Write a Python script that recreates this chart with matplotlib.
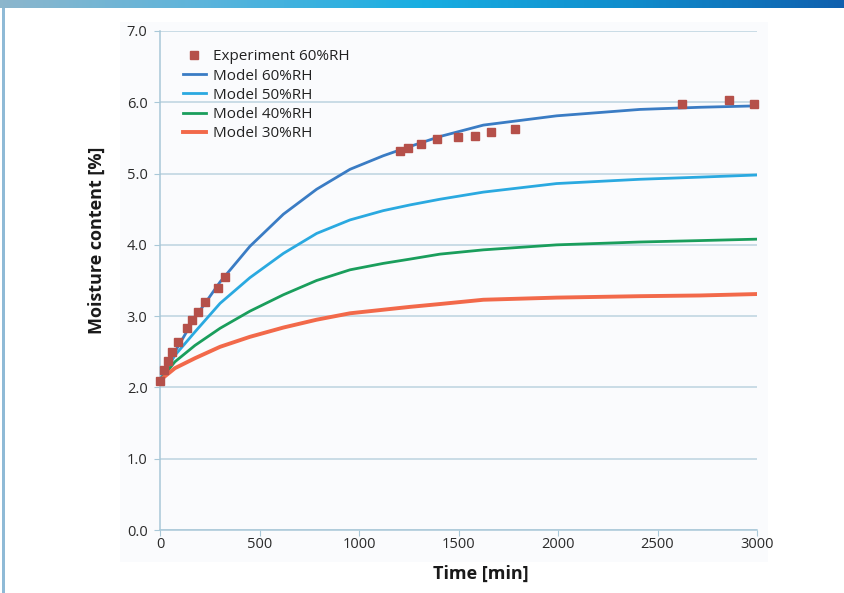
import numpy as np
import matplotlib
matplotlib.use("Agg")
import matplotlib.pyplot as plt
from matplotlib.patches import Rectangle
from matplotlib.colors import LinearSegmentedColormap

plt.rcParams['font.family'] = ['Open Sans', 'DejaVu Sans']

# Experimental data (60% RH)
exp_t = [0, 20, 42, 59, 92, 134, 162, 193, 226, 290, 327,
         1206, 1248, 1310, 1394, 1496, 1581, 1662, 1786, 2621, 2860, 2985]
exp_mc = [2.09, 2.25, 2.37, 2.49, 2.64, 2.83, 2.95, 3.06, 3.20, 3.40, 3.55,
          5.31, 5.36, 5.42, 5.49, 5.51, 5.53, 5.59, 5.62, 5.98, 6.03, 5.98]

# Model curves
model_t = [0, 75, 176, 302, 452, 620, 787, 955, 1122, 1256, 1407, 1625, 1993, 2412, 2714, 3000]
model_60 = [2.10, 2.50, 2.98, 3.48, 3.98, 4.43, 4.78, 5.06, 5.25, 5.38, 5.52, 5.68, 5.81, 5.90, 5.93, 5.95]
model_50 = [2.10, 2.45, 2.78, 3.18, 3.54, 3.88, 4.16, 4.35, 4.48, 4.56, 4.64, 4.74, 4.86, 4.92, 4.95, 4.98]
model_40 = [2.10, 2.36, 2.59, 2.83, 3.07, 3.30, 3.50, 3.65, 3.74, 3.80, 3.87, 3.93, 4.00, 4.04, 4.06, 4.08]
model_30 = [2.10, 2.27, 2.41, 2.57, 2.71, 2.84, 2.95, 3.04, 3.09, 3.13, 3.17, 3.23, 3.26, 3.28, 3.29, 3.31]

x_ticks = [0, 500, 1000, 1500, 2000, 2500, 3000]
y_ticks = [0.0, 1.0, 2.0, 3.0, 4.0, 5.0, 6.0, 7.0]

W, H = 844, 593
fig = plt.figure(figsize=(W / 100, H / 100), dpi=100)
fig.patch.set_facecolor('white')

# faint panel behind plot
bg = fig.add_axes([120 / W, 1 - 562 / H, (768 - 120) / W, (562 - 22) / H], zorder=-5)
bg.set_axis_off()
bg.add_patch(Rectangle((0, 0), 1, 1, transform=bg.transAxes, facecolor='#fafbfd', edgecolor='none'))

# left border
border = fig.add_axes([2 / W, 0, 3 / W, 1 - 8 / H], zorder=-4)
border.set_axis_off()
border.add_patch(Rectangle((0, 0), 1, 1, transform=border.transAxes, facecolor='#8fbad6', edgecolor='none'))

# top gradient bar
bar = fig.add_axes([0, 1 - 8 / H, 1, 8 / H])
cmap = LinearSegmentedColormap.from_list('g', ['#8cb6cc', '#5ab4dc', '#18aee2', '#0f8ccc', '#1060ae'])
bar.imshow(np.linspace(0, 1, 256)[None, :], aspect='auto', cmap=cmap, extent=[0, 1, 0, 1])
bar.set_axis_off()

ax = fig.add_axes([160 / W, 1 - 530 / H, 597 / W, 499 / H], zorder=2)
ax.set_facecolor('none')

ax.plot(model_t, model_60, color='#3a7cc4', lw=2.0, label='Model 60%RH', zorder=3)
ax.plot(model_t, model_50, color='#2aa9e0', lw=2.0, label='Model 50%RH', zorder=3)
ax.plot(model_t, model_40, color='#1a9e5c', lw=2.0, label='Model 40%RH', zorder=3)
ax.plot(model_t, model_30, color='#f2694a', lw=2.8, label='Model 30%RH', zorder=3)
ax.plot(exp_t, exp_mc, ls='none', marker='s', ms=6, color='#b5504a',
        label='Experiment 60%RH', zorder=4, clip_on=False)

ax.set_xlim(0, 3000)
ax.set_ylim(0, 7)
ax.set_xticks(x_ticks)
ax.set_xticklabels([str(v) for v in x_ticks])
ax.set_yticks(y_ticks)
ax.set_yticklabels([f'{v:.1f}' for v in y_ticks])
ax.grid(axis='y', color='#bcd3df', lw=1.1, zorder=1)
ax.set_axisbelow(True)
for s in ['top', 'right']:
    ax.spines[s].set_visible(False)
for s in ['left', 'bottom']:
    ax.spines[s].set_color('#a9c8d8')
    ax.spines[s].set_linewidth(1.1)
ax.tick_params(axis='both', colors='#a9c8d8', length=4, labelcolor='#2a2a2a', labelsize=10.5)
ax.tick_params(axis='y', pad=5)
ax.tick_params(axis='x', pad=1)

ax.set_xlabel('Time [min]', fontsize=13, fontweight='bold', color='#1a1a1a')
ax.set_ylabel('Moisture content [%]', fontsize=13, fontweight='bold', color='#1a1a1a')
ax.xaxis.set_label_coords((481 - 160) / 597, -(574 - 530) / 499)
ax.xaxis.label.set_va('center')
ax.yaxis.set_label_coords(-(160 - 97) / 597, (530 - 240) / 499)
ax.yaxis.label.set_va('center')

handles, labels = ax.get_legend_handles_labels()
order = [4, 0, 1, 2, 3]
leg = ax.legend([handles[i] for i in order], [labels[i] for i in order],
                loc='upper left', bbox_to_anchor=(183 / W, 1 - 49.5 / H),
                bbox_transform=fig.transFigure, frameon=False, fontsize=11,
                handlelength=1.5, handletextpad=0.45, labelspacing=0.27,
                borderaxespad=0, borderpad=0)
for t in leg.get_texts():
    t.set_color('#222222')

fig.savefig('out.png', dpi=100)
